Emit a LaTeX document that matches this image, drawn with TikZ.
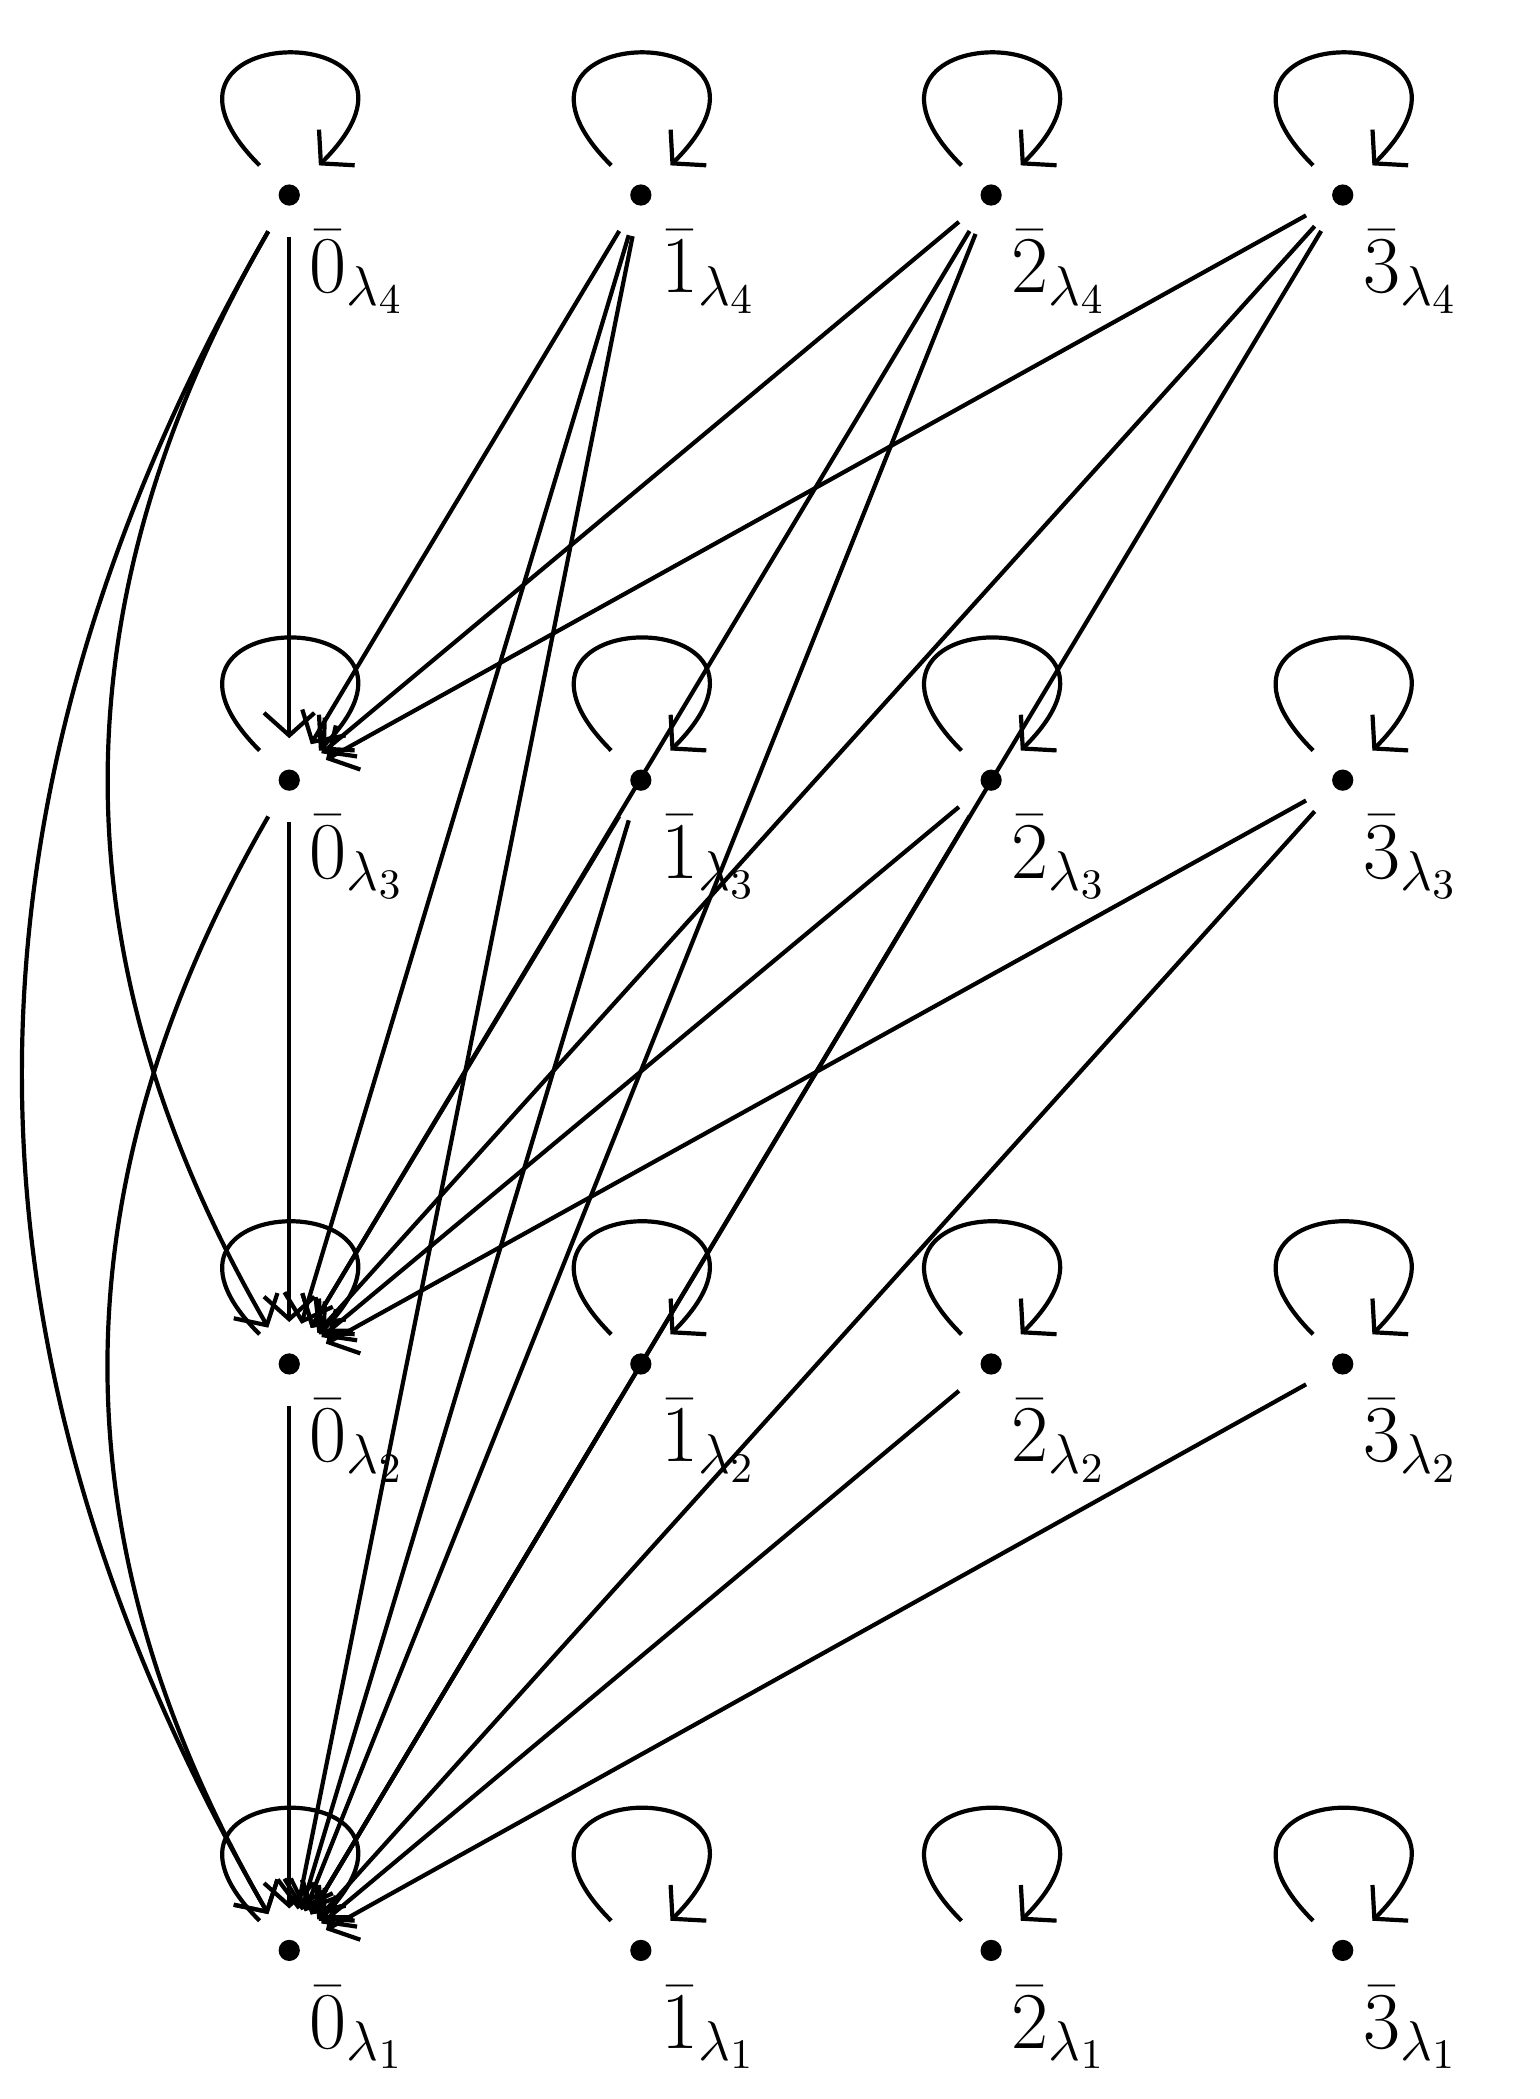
\documentclass[tikz,border=0pt]{standalone}
\usepackage{tikz}
\usetikzlibrary{calc,arrows.meta}
\begin{document}
\begin{tikzpicture}[x=0.01cm,y=-0.01cm,line width=0.9pt,
  >={Straight Barb[length=1.7mm,width=3.8mm]},
  vtx/.style={circle,minimum size=0.6cm,inner sep=0pt},
  lbl/.style={anchor=west,inner sep=0pt,font=\fontsize{18}{21}\selectfont},
  lp/.style={->,out=135,in=45,distance=1.6cm}]
\useasboundingbox (0,0) rectangle (1160,1582);
\foreach \r/\y in {4/147,3/588,2/1028,1/1470}{
  \foreach \c/\x in {0/218,1/483,2/747,3/1012}{
    \node[vtx] (n\c\r) at (\x,\y) {};
    \fill (n\c\r.center) circle (0.08cm);
    \node[lbl] (l\c\r) at ($(n\c\r.center)+(14,58)$) {$\bar{\c}_{\lambda_{\r}}$};
    \draw[lp] (n\c\r) to (n\c\r);
  }}
% straight edges a_i -> 0_j, j<i
\foreach \i in {2,3,4}{
  \foreach \j in {1,...,3}{
    \ifnum\j<\i
      \foreach \c in {1,2,3}{\draw[->] (n\c\i) -- (n0\j);}
    \fi
  }}
\draw[->] (n04) -- (n03);
\draw[->] (n03) -- (n02);
\draw[->] (n02) -- (n01);
\draw[->] (n04) to[bend right=30] (n02);
\draw[->] (n04) to[bend right=30] (n01);
\draw[->] (n03) to[bend right=30] (n01);
\end{tikzpicture}
\end{document}
